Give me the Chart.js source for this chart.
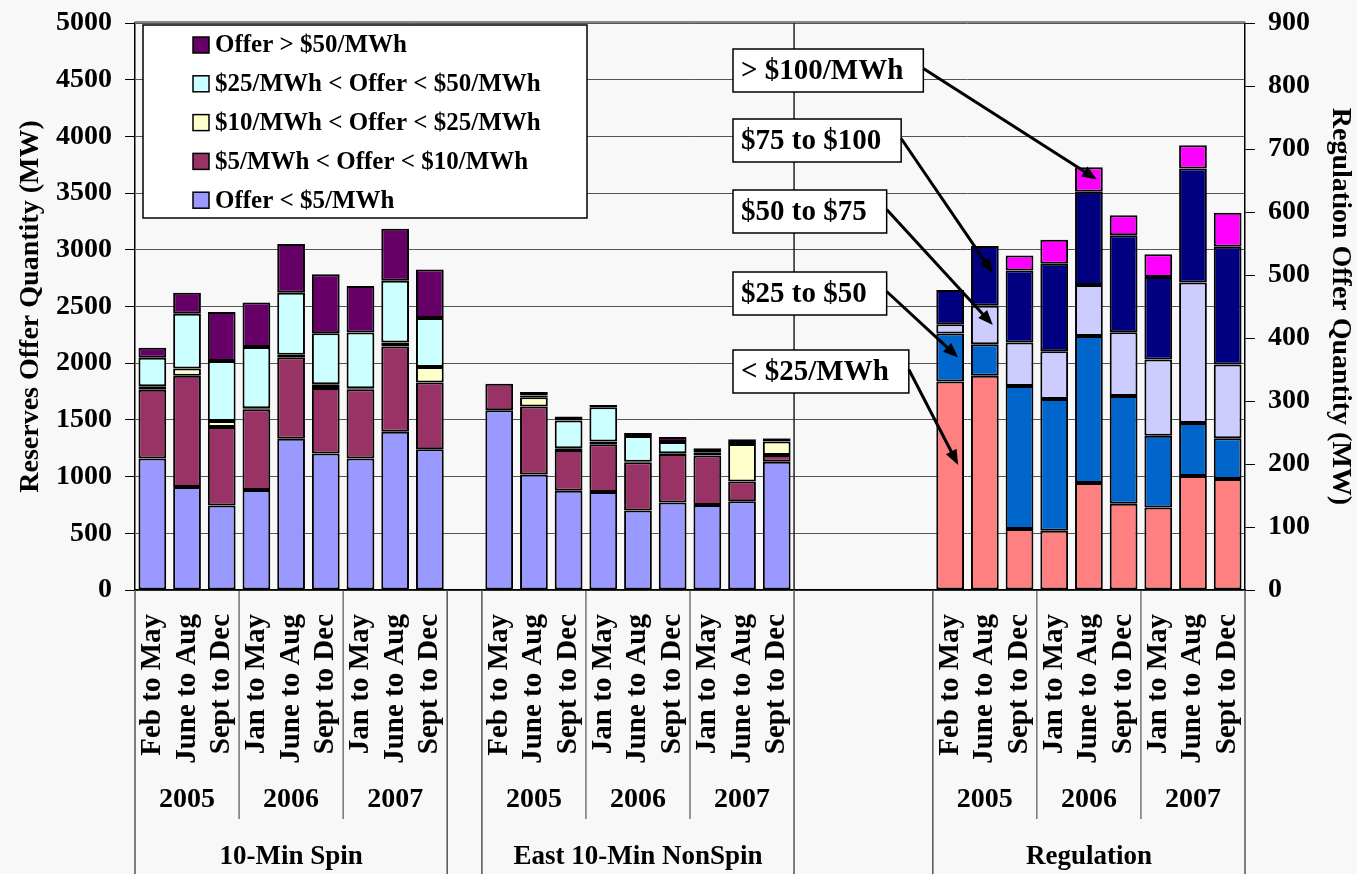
<!DOCTYPE html>
<html>
<head>
<meta charset="utf-8">
<title>Reserves and Regulation Offer Quantity</title>
<script src="https://cdn.jsdelivr.net/npm/chart.js@4.4.1/dist/chart.umd.min.js"></script>
<style>
  html, body { margin: 0; padding: 0; background: #f8f8f8; }
  #offer_chart { display: block; }
</style>
</head>
<body>
<canvas id="offer_chart" width="1357" height="874"></canvas>
<script>
var periods = ['Feb to May', 'June to Aug', 'Sept to Dec', 'Jan to May', 'June to Aug', 'Sept to Dec', 'Jan to May', 'June to Aug', 'Sept to Dec'];
var years = ['2005', '2006', '2007'];
var groups = ['10-Min Spin', 'East 10-Min NonSpin', 'Regulation'];

// 10-Min Spin, MW (left axis)
var spin_under_5 = [1160, 908, 745, 882, 1333, 1203, 1160, 1395, 1242];
var spin_5_10 = [605, 981, 693, 713, 719, 578, 611, 752, 588];
var spin_10_25 = [32, 65, 52, 7, 23, 33, 7, 36, 137];
var spin_25_50 = [252, 481, 530, 541, 546, 451, 493, 543, 432];
var spin_over_50 = [88, 186, 431, 392, 431, 519, 409, 460, 428];

// East 10-Min NonSpin, MW (left axis)
var nonspin_under_5 = [1585, 1018, 876, 865, 700, 771, 750, 782, 1132];
var nonspin_5_10 = [233, 600, 359, 420, 426, 429, 435, 174, 59];
var nonspin_10_25 = [null, 82, 15, 24, 5, 5, 5, 332, 118];
var nonspin_25_50 = [null, 15, 244, 303, 227, 101, 25, 35, 26];
var nonspin_over_50 = [null, 32, 35, 20, 26, 44, 35, 6, 6];

// Regulation, MW (right axis)
var reg_under_25 = [331, 340, 97, 94, 170, 137, 131, 181, 176];
var reg_25_50 = [76, 50, 227, 209, 233, 171, 114, 84, 65];
var reg_50_75 = [15, 61, 69, 76, 81, 101, 121, 223, 117];
var reg_75_100 = [54, 95, 114, 139, 148, 154, 131, 181, 187];
var reg_over_100 = [null, null, 24, 38, 39, 32, 36, 37, 54];

var reserve_labels = ['Offer < $5/MWh', '$5/MWh < Offer < $10/MWh', '$10/MWh < Offer < $25/MWh', '$25/MWh < Offer < $50/MWh', 'Offer > $50/MWh'];
var reserve_colors = ['#9999ff', '#993366', '#ffffcc', '#ccffff', '#660066'];
var reg_labels = ['< $25/MWh', '$25 to $50', '$50 to $75', '$75 to $100', '> $100/MWh'];
var reg_colors = ['#ff8080', '#0066cc', '#ccccff', '#000080', '#ff00ff'];

var left_ticks = { min: 0, max: 5000, step: 500 };
var right_ticks = { min: 0, max: 900, step: 100 };

var spin_series = [spin_under_5, spin_5_10, spin_10_25, spin_25_50, spin_over_50];
var nonspin_series = [nonspin_under_5, nonspin_5_10, nonspin_10_25, nonspin_25_50, nonspin_over_50];
var reg_series = [reg_under_25, reg_25_50, reg_50_75, reg_75_100, reg_over_100];

// empty categories between the groups
var gaps = [1, 4];
var n = periods.length;
var group_start = [0, n + gaps[0], 2 * n + gaps[0] + gaps[1]];

var font_family = "'Liberation Serif', 'Times New Roman', serif";

var blanks = function(count) {
  var out = [];
  for (var i = 0; i < count; i++) out.push(null);
  return out;
};

var category_labels = periods.concat([''], periods, ['', '', '', ''], periods);

var datasets = [];
for (var i = 0; i < 5; i++) {
  datasets.push({
    label: reserve_labels[i],
    data: spin_series[i].concat(blanks(gaps[0]), nonspin_series[i], blanks(gaps[1] + n)),
    backgroundColor: reserve_colors[i],
    yAxisID: 'y',
    stack: 'all'
  });
}
for (var j = 0; j < 5; j++) {
  datasets.push({
    label: reg_labels[j],
    data: blanks(group_start[2]).concat(reg_series[j]),
    backgroundColor: reg_colors[j],
    yAxisID: 'y1',
    stack: 'all'
  });
}

// callout boxes pointing at the regulation stacks
var callouts = [
  { text: '> $100/MWh', box_y: 49, series: 4, period: 4, frac: 0.5 },
  { text: '$75 to $100', box_y: 119, series: 3, period: 1, frac: 0.55 },
  { text: '$50 to $75', box_y: 190, series: 2, period: 1, frac: 0.5 },
  { text: '$25 to $50', box_y: 272, series: 1, period: 0, frac: 0.5 },
  { text: '< $25/MWh', box_y: 350, series: 0, period: 0, frac: 0.6 }
];

var draw_arrow = function(ctx, x0, y0, x1, y1) {
  var ang = Math.atan2(y1 - y0, x1 - x0);
  var head = 15;
  ctx.beginPath();
  ctx.moveTo(x0, y0);
  ctx.lineTo(x1 - Math.cos(ang) * head * 0.8, y1 - Math.sin(ang) * head * 0.8);
  ctx.stroke();
  ctx.beginPath();
  ctx.moveTo(x1, y1);
  ctx.lineTo(x1 - head * Math.cos(ang) + 6 * Math.sin(ang), y1 - head * Math.sin(ang) - 6 * Math.cos(ang));
  ctx.lineTo(x1 - head * Math.cos(ang) - 6 * Math.sin(ang), y1 - head * Math.sin(ang) + 6 * Math.cos(ang));
  ctx.closePath();
  ctx.fill();
};

var axis_levels = {
  id: 'axis_levels',
  beforeDatasetsDraw: function(chart) {
    var ctx = chart.ctx;
    var area = chart.chartArea;
    var x = chart.scales.x;
    var half = (x.getPixelForValue(1) - x.getPixelForValue(0)) / 2;
    // the NonSpin group border runs up through the plot
    var nx = x.getPixelForValue(group_start[1] + n - 1) + half;
    ctx.save();
    ctx.strokeStyle = '#222';
    ctx.lineWidth = 1.5;
    ctx.beginPath();
    ctx.moveTo(nx, area.top);
    ctx.lineTo(nx, area.bottom);
    ctx.stroke();
    ctx.restore();
  },
  afterDraw: function(chart) {
    var ctx = chart.ctx;
    var area = chart.chartArea;
    var x = chart.scales.x;
    var half = (x.getPixelForValue(1) - x.getPixelForValue(0)) / 2;
    var bottom = chart.height;
    ctx.save();
    ctx.fillStyle = '#000';
    ctx.textAlign = 'center';
    ctx.textBaseline = 'middle';
    for (var g = 0; g < groups.length; g++) {
      var s = group_start[g];
      var left = x.getPixelForValue(s) - half;
      var right = x.getPixelForValue(s + n - 1) + half;
      ctx.strokeStyle = '#555';
      ctx.lineWidth = 1.5;
      ctx.beginPath();
      ctx.moveTo(left, area.bottom);
      ctx.lineTo(left, bottom);
      ctx.moveTo(right, area.bottom);
      ctx.lineTo(right, bottom);
      ctx.stroke();
      ctx.strokeStyle = '#333';
      ctx.lineWidth = 1;
      ctx.font = 'bold 28px ' + font_family;
      for (var y = 0; y < years.length; y++) {
        var y_left = x.getPixelForValue(s + y * 3) - half;
        if (y > 0) {
          ctx.beginPath();
          ctx.moveTo(y_left, area.bottom);
          ctx.lineTo(y_left, 819);
          ctx.stroke();
        }
        ctx.fillText(years[y], x.getPixelForValue(s + y * 3 + 1), 800);
      }
      ctx.font = 'bold 27px ' + font_family;
      ctx.fillText(groups[g], (left + right) / 2, 857);
    }
    // plot top border
    ctx.strokeStyle = '#888';
    ctx.lineWidth = 2;
    ctx.beginPath();
    ctx.moveTo(area.left, area.top - 1);
    ctx.lineTo(area.right, area.top - 1);
    ctx.stroke();
    ctx.restore();
  }
};

var legend_box = {
  id: 'legend_box',
  afterDraw: function(chart) {
    var ctx = chart.ctx;
    ctx.save();
    ctx.fillStyle = '#fff';
    ctx.fillRect(143, 25, 444, 193);
    ctx.strokeStyle = '#000';
    ctx.lineWidth = 1.5;
    ctx.strokeRect(143, 25, 444, 193);
    ctx.font = 'bold 25px ' + font_family;
    ctx.textAlign = 'left';
    ctx.textBaseline = 'middle';
    for (var k = 0; k < 5; k++) {
      var ds = chart.data.datasets[4 - k];
      var cy = 45 + k * 38.8;
      ctx.fillStyle = ds.backgroundColor;
      ctx.fillRect(193, cy - 8, 16, 16);
      ctx.lineWidth = 1.5;
      ctx.strokeRect(193, cy - 8, 16, 16);
      ctx.fillStyle = '#000';
      ctx.fillText(ds.label, 215, cy + 1);
    }
    ctx.restore();
  }
};

var callout_plugin = {
  id: 'callout_plugin',
  afterDraw: function(chart) {
    var ctx = chart.ctx;
    var x = chart.scales.x;
    var y1 = chart.scales.y1;
    ctx.save();
    ctx.font = 'bold 29px ' + font_family;
    ctx.textBaseline = 'middle';
    ctx.textAlign = 'left';
    for (var c = 0; c < callouts.length; c++) {
      var co = callouts[c];
      var w = ctx.measureText(co.text).width + 28;
      var h = 43;
      ctx.fillStyle = '#fff';
      ctx.fillRect(733, co.box_y, w, h);
      ctx.strokeStyle = '#000';
      ctx.lineWidth = 1.5;
      ctx.strokeRect(733, co.box_y, w, h);
      ctx.fillStyle = '#000';
      ctx.fillText(co.text, 741, co.box_y + h / 2 + 1);

      var base = 0;
      for (var s = 0; s < co.series; s++) base += reg_series[s][co.period] || 0;
      var val = base + co.frac * reg_series[co.series][co.period];
      var tx = x.getPixelForValue(group_start[2] + co.period) + 8;
      var ty = y1.getPixelForValue(val);
      ctx.lineWidth = 3;
      draw_arrow(ctx, 733 + w, co.box_y + h / 2 - 2, tx, ty);
    }
    ctx.restore();
  }
};

var tick_font = { family: font_family, size: 28, weight: 'bold' };
var plain_number = function(value) { return String(value); };

// keep the value axes from pushing the plot top down
var fit_value_axis = function(width) {
  return function(scale) {
    scale.width = width;
    scale.paddingTop = 0;
    scale.paddingBottom = 0;
  };
};

var offer_chart = new Chart(document.getElementById('offer_chart').getContext('2d'), {
  type: 'bar',
  data: {
    labels: category_labels,
    datasets: datasets
  },
  options: {
    responsive: false,
    animation: false,
    layout: { padding: { top: 23, left: 0, right: 0, bottom: 0 } },
    datasets: {
      bar: {
        categoryPercentage: 1,
        barPercentage: 0.8,
        borderColor: '#000',
        borderWidth: 2,
        borderSkipped: false,
        skipNull: true
      }
    },
    plugins: {
      legend: { display: false },
      tooltip: { enabled: false }
    },
    scales: {
      x: {
        stacked: true,
        grid: { display: false },
        border: { color: '#000', width: 1.5 },
        ticks: {
          autoSkip: false,
          minRotation: 90,
          maxRotation: 90,
          padding: 16,
          color: '#000',
          font: { family: font_family, size: 29, weight: 'bold' }
        },
        afterFit: function(scale) { scale.height = 284; }
      },
      y: {
        position: 'left',
        stacked: true,
        min: left_ticks.min,
        max: left_ticks.max,
        grid: { color: '#555', lineWidth: 1, tickLength: 10, tickColor: '#000' },
        border: { color: '#000', width: 1.5 },
        ticks: { stepSize: left_ticks.step, padding: 13, color: '#000', font: tick_font, callback: plain_number },
        title: {
          display: true,
          text: 'Reserves Offer Quantity (MW)',
          color: '#000',
          font: { family: font_family, size: 28, weight: 'bold' },
          padding: { top: 14, bottom: 0 }
        },
        afterFit: fit_value_axis(135)
      },
      y1: {
        position: 'right',
        stacked: true,
        min: right_ticks.min,
        max: right_ticks.max,
        grid: { drawOnChartArea: false, tickLength: 10, tickColor: '#000' },
        border: { color: '#000', width: 1.5 },
        ticks: { stepSize: right_ticks.step, padding: 13, color: '#000', font: tick_font, callback: plain_number },
        title: {
          display: true,
          text: 'Regulation Offer Quantity (MW)',
          color: '#000',
          font: { family: font_family, size: 28, weight: 'bold' },
          padding: { top: 0, bottom: 0 }
        },
        afterFit: fit_value_axis(112)
      }
    }
  },
  plugins: [axis_levels, legend_box, callout_plugin]
});
</script>
</body>
</html>
